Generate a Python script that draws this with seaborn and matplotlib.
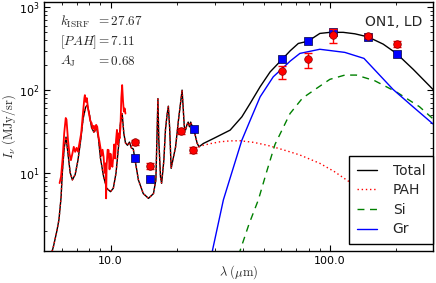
import matplotlib
matplotlib.use("Agg")
import matplotlib.pyplot as plt
import seaborn as sns
from matplotlib.ticker import LogLocator, NullFormatter
from matplotlib.lines import Line2D

# --- model curves: wavelength (um) / intensity (MJy/sr) ---
# mid-IR part, PAH dominated (total and PAH coincide here)
mir_x = [5.3, 5.5, 5.7, 5.82, 5.95, 6.03, 6.15, 6.27, 6.4, 6.55, 6.7, 6.9, 7.1, 7.3,
         7.5, 7.7, 7.84, 8.0, 8.2, 8.4, 8.63, 8.8, 9.0, 9.3, 9.6, 10.0, 10.3, 10.6,
         10.9, 11.1, 11.3, 11.5, 11.7, 11.95, 12.2, 12.45, 12.7, 12.9, 13.4, 14.1,
         14.9, 15.7, 16.1, 16.3, 16.45, 16.6, 16.9, 17.1, 17.5, 17.8, 18.1, 18.35,
         18.6, 18.9, 19.8, 20.4, 21.2, 21.7, 22.0, 22.3, 22.6, 22.9, 23.2, 23.8,
         24.3, 24.8, 25.3]
mir_y = [0.9, 1.3, 2.0, 2.7, 5.0, 10, 20, 27, 17, 10, 8.2, 9.5, 14, 24,
         45, 62, 66, 52, 35, 31, 36, 27, 15, 9, 6.5, 5.9, 6.5, 10,
         22, 40, 52, 30, 23, 21.5, 23.5, 20, 19.4, 15, 8.2, 5.6,
         4.9, 5.6, 8.2, 30, 79, 25, 8.9, 7.45, 14, 33, 50, 64,
         35, 11.3, 20.6, 43, 100, 36, 33, 38, 41, 36, 41, 34,
         29, 23, 20.6]

total_tail_x = [26.5, 29.5, 35.1, 39.7, 43.3, 48.1, 53.4, 60.7, 66, 71.8, 79.4, 90,
                100, 115, 130, 149, 175, 201, 240, 295]
total_tail_y = [22.6, 26, 32.8, 47.5, 69, 110, 166, 237, 300, 367, 390, 485,
                500, 500, 480, 441, 360, 278, 178, 102]

pah_tail_x = [26.5, 28.5, 31.6, 35, 39, 45, 51.5, 58, 65.8, 73, 90, 105, 119, 140,
              170, 200, 240, 277, 295]
pah_tail_y = [21.5, 22.5, 23.7, 24.3, 24.4, 23.3, 21.6, 19.8, 17.9, 16.4, 13.0, 10.3,
              8.2, 6.2, 4.4, 3.4, 2.5, 1.92, 1.75]

si_x = [38.5, 39, 42.8, 47.2, 51.5, 56.2, 65.8, 75, 87, 100, 117, 132, 160, 201, 256, 295]
si_y = [1.0, 1.15, 2.4, 4.7, 10.3, 22, 52, 80, 105, 135, 152, 152, 130, 95, 63, 45]

gr_x = [28.5, 29.2, 32.7, 35.7, 39.7, 43.3, 48.1, 55.2, 60.3, 66, 73, 90, 117, 143,
        194, 239, 295]
gr_y = [0.8, 1.17, 4.7, 10, 24.8, 43, 83, 145, 180, 225, 278, 312, 286, 242,
        102, 63, 39]

# observed mid-IR spectrum
spec_x = [5.86, 5.95, 6.05, 6.15, 6.25, 6.3, 6.4, 6.5, 6.6, 6.7, 6.8, 6.9, 7.0, 7.1,
          7.2, 7.35, 7.5, 7.6, 7.64, 7.72, 7.8, 7.9, 8.0, 8.1, 8.2, 8.3, 8.4, 8.5,
          8.6, 8.7, 8.8, 8.9, 9.0, 9.1, 9.2, 9.3, 9.4, 9.5, 9.55, 9.6, 9.7, 9.8,
          9.9, 10.0, 10.1, 10.2, 10.3, 10.4, 10.5, 10.6, 10.7, 10.8, 10.9, 11.0,
          11.1, 11.2, 11.3, 11.4, 11.5, 11.6, 11.7]
spec_y = [7.5, 9, 15, 30, 46, 44, 25, 17, 14.2, 17, 20.6, 17.9, 20, 18,
          22, 30, 55, 80, 87, 72, 80, 60, 50, 42, 40, 34, 37, 32,
          38, 36, 28, 24, 20, 16, 19, 15.6, 10, 13, 4.9, 12, 19, 18.8,
          11, 17, 13, 11.8, 16, 22, 14.9, 25, 33, 22, 30, 26,
          35, 80, 115, 75, 55, 60, 52]

# photometry
obs_x = [12.9, 15.2, 21.0, 23.8, 60.7, 79.4, 103, 149, 203]
obs_y = [23.3, 12.2, 32.2, 18.8, 168, 235, 458, 454, 363]
obs_err = [1.5, 1.0, 2.5, 1.5, 30, 50, 90, 30, 35]
mod_x = [12.9, 15.2, 23.9, 60.7, 79.4, 103, 149, 203]
mod_y = [14.9, 8.46, 34, 237, 388, 499, 441, 272]

sns.set_style("ticks")
plt.rcParams['mathtext.fontset'] = 'dejavusans'
plt.rcParams['xtick.direction'] = 'in'
plt.rcParams['ytick.direction'] = 'in'

fig = plt.figure(figsize=(4.36, 2.83), dpi=100)
ax = fig.add_axes([0.102, 0.113, 0.891, 0.880])

sns.lineplot(x=mir_x + total_tail_x, y=mir_y + total_tail_y, ax=ax, color='black',
             lw=1.0, sort=False, estimator=None)
sns.lineplot(x=mir_x + pah_tail_x, y=mir_y + pah_tail_y, ax=ax, color='red',
             lw=1.0, sort=False, estimator=None, linestyle=(0, (1, 2)))
sns.lineplot(x=si_x, y=si_y, ax=ax, color='green', lw=1.0, sort=False,
             estimator=None, linestyle=(0, (5, 4)))
sns.lineplot(x=gr_x, y=gr_y, ax=ax, color='blue', lw=1.0, sort=False, estimator=None)
sns.lineplot(x=spec_x, y=spec_y, ax=ax, color='red', lw=1.3, sort=False, estimator=None)

sns.scatterplot(x=mod_x, y=mod_y, ax=ax, marker='s', color='blue', s=30,
                edgecolor='#000040', linewidth=0.5, zorder=5)
ax.errorbar(obs_x, obs_y, yerr=obs_err, fmt='none', ecolor='red', elinewidth=1,
            capsize=3, zorder=6)
sns.scatterplot(x=obs_x, y=obs_y, ax=ax, marker='o', color='red', s=30,
                edgecolor='#800000', linewidth=0.5, zorder=7)

ax.set_xscale('log')
ax.set_yscale('log')
ax.set_xlim(5.0, 295)
ax.set_ylim(1.13, 1165)

ax.set_xticks([10, 100])
ax.set_xticklabels(['10.0', '100.0'])
ax.xaxis.set_minor_locator(LogLocator(base=10, subs=range(2, 10)))
ax.xaxis.set_minor_formatter(NullFormatter())
ax.tick_params(which='both', direction='in', top=True, right=True, labelsize=8,
               colors='black')
ax.tick_params(which='major', length=4, width=0.8)
ax.tick_params(which='minor', length=2, width=0.6)
for sp in ax.spines.values():
    sp.set_linewidth(1.0)
    sp.set_color('black')

ax.set_xlabel(r'$\lambda\ (\mu{\rm m})$', fontsize=9, math_fontfamily='cm',
              va='center')
ax.set_ylabel(r'$I_{\nu}\ ({\rm MJy/sr})$', fontsize=9, math_fontfamily='cm',
              va='center')
ax.xaxis.set_label_coords(0.5, -0.085, transform=ax.transAxes)
ax.yaxis.set_label_coords(-0.09, 0.5, transform=ax.transAxes)

# parameter annotations
labels = [r'$k_{\rm ISRF}$', r'$[PAH]$', r'$A_{\rm J}$']
values = [r'$=27.67$', r'$=7.11$', r'$=0.68$']
for i, (lb, vl) in enumerate(zip(labels, values)):
    yy = 0.92 - i * 0.08
    ax.text(0.04, yy, lb, transform=ax.transAxes, fontsize=9.5,
            math_fontfamily='cm', va='center', ha='left')
    ax.text(0.133, yy, vl, transform=ax.transAxes, fontsize=9.5,
            math_fontfamily='cm', va='center', ha='left')

ax.text(0.825, 0.92, 'ON1, LD', transform=ax.transAxes, fontsize=10,
        va='center', ha='left')

handles = [Line2D([], [], color='black', lw=1),
           Line2D([], [], color='red', lw=1, linestyle=(0, (1, 2))),
           Line2D([], [], color='green', lw=1, linestyle=(0, (5, 4))),
           Line2D([], [], color='blue', lw=1)]
leg = ax.legend(handles, ['Total', 'PAH', 'Si', 'Gr'], loc='lower right',
                bbox_to_anchor=(1.0, 0.028), borderaxespad=0, fontsize=10,
                handlelength=1.5, labelspacing=0.4, fancybox=False,
                framealpha=1, edgecolor='black', borderpad=0.55, handletextpad=1.1)
leg.get_frame().set_linewidth(1.0)

fig.savefig('out.png', dpi=100)
plt.close(fig)
